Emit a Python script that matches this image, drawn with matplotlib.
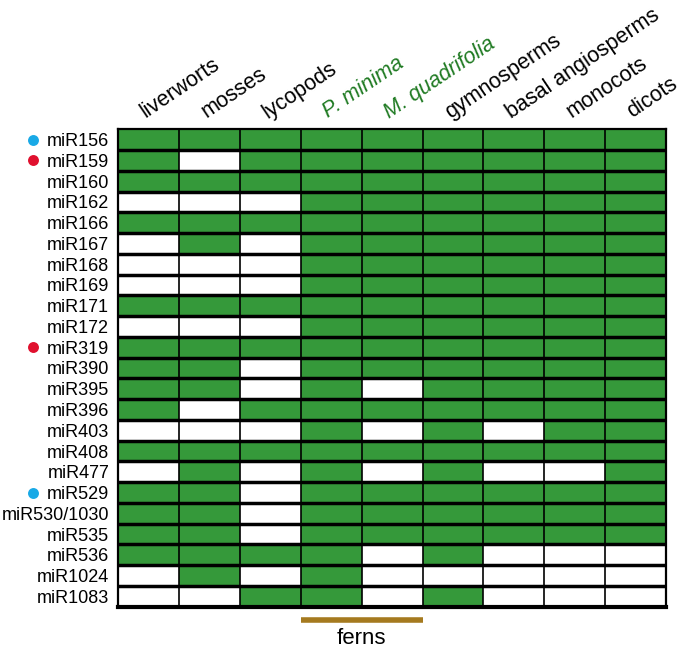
import numpy as np
import matplotlib
matplotlib.use("Agg")
import matplotlib.pyplot as plt
from matplotlib.colors import ListedColormap

plt.rcParams['font.family'] = ['Liberation Sans', 'DejaVu Sans']

# ----------------------------------------------------------------------
# Datos: presencia (1) / ausencia (0) de cada familia de miRNA
# ----------------------------------------------------------------------
grupos = ["liverworts", "mosses", "lycopods", "P. minima", "M. quadrifolia",
          "gymnosperms", "basal angiosperms", "monocots", "dicots"]
grupos_verdes = ["P. minima", "M. quadrifolia"]

mirnas = ["miR156", "miR159", "miR160", "miR162", "miR166", "miR167",
          "miR168", "miR169", "miR171", "miR172", "miR319", "miR390",
          "miR395", "miR396", "miR403", "miR408", "miR477", "miR529",
          "miR530/1030", "miR535", "miR536", "miR1024", "miR1083"]

presencia = [
    [1, 1, 1, 1, 1, 1, 1, 1, 1],  # miR156
    [1, 0, 1, 1, 1, 1, 1, 1, 1],  # miR159
    [1, 1, 1, 1, 1, 1, 1, 1, 1],  # miR160
    [0, 0, 0, 1, 1, 1, 1, 1, 1],  # miR162
    [1, 1, 1, 1, 1, 1, 1, 1, 1],  # miR166
    [0, 1, 0, 1, 1, 1, 1, 1, 1],  # miR167
    [0, 0, 0, 1, 1, 1, 1, 1, 1],  # miR168
    [0, 0, 0, 1, 1, 1, 1, 1, 1],  # miR169
    [1, 1, 1, 1, 1, 1, 1, 1, 1],  # miR171
    [0, 0, 0, 1, 1, 1, 1, 1, 1],  # miR172
    [1, 1, 1, 1, 1, 1, 1, 1, 1],  # miR319
    [1, 1, 0, 1, 1, 1, 1, 1, 1],  # miR390
    [1, 1, 0, 1, 0, 1, 1, 1, 1],  # miR395
    [1, 0, 1, 1, 1, 1, 1, 1, 1],  # miR396
    [0, 0, 0, 1, 0, 1, 0, 1, 1],  # miR403
    [1, 1, 1, 1, 1, 1, 1, 1, 1],  # miR408
    [0, 1, 0, 1, 0, 1, 0, 0, 1],  # miR477
    [1, 1, 0, 1, 1, 1, 1, 1, 1],  # miR529
    [1, 1, 0, 1, 1, 1, 1, 1, 1],  # miR530/1030
    [1, 1, 0, 1, 1, 1, 1, 1, 1],  # miR535
    [1, 1, 1, 1, 0, 1, 0, 0, 0],  # miR536
    [0, 1, 0, 1, 0, 0, 0, 0, 0],  # miR1024
    [0, 0, 1, 1, 0, 1, 0, 0, 0],  # miR1083
]

# marcadores de color junto a algunas familias
marcas = {"miR156": "#19a9e6", "miR529": "#19a9e6",
          "miR159": "#e0102e", "miR319": "#e0102e"}

# agrupación "ferns" (columnas de P. minima y M. quadrifolia)
ferns_cols = (3, 5)

verde = "#35993a"
verde_texto = "#1f7a22"

# ----------------------------------------------------------------------
# Figura
# ----------------------------------------------------------------------
fig = plt.figure(figsize=(6.83, 6.48), dpi=100)
ax = fig.add_axes([0.1732, 0.0637, 0.8019, 0.7368])

mat = np.array(presencia)
n_rows, n_cols = mat.shape
ax.pcolormesh(np.arange(n_cols + 1), np.arange(n_rows + 1), mat,
              cmap=ListedColormap(["white", verde]), vmin=0, vmax=1)
ax.set_xlim(0, n_cols)
ax.set_ylim(n_rows, 0)

# lineas de la cuadricula: horizontales gruesas, verticales finas
ax.vlines(np.arange(1, n_cols), 0, n_rows, color="black", lw=1.2)
ax.hlines(np.arange(1, n_rows), 0, n_cols, color="black", lw=2.5)
for lado in ["left", "right", "top"]:
    ax.spines[lado].set_linewidth(1.6)
ax.spines["bottom"].set_linewidth(3)

# etiquetas de filas
ax.set_yticks(np.arange(n_rows) + 0.5)
ax.set_yticklabels(mirnas, fontsize=13)
ax.tick_params(axis="y", length=0, pad=6.5)
ax.set_xticks([])

for i, m in enumerate(mirnas):
    if m in marcas:
        ax.scatter(-1.407, i + 0.5, s=62, color=marcas[m],
                   clip_on=False, zorder=5, linewidths=0)

# etiquetas de columnas (giradas)
for j, g in enumerate(grupos):
    es_verde = g in grupos_verdes
    ax.text(j + 0.45, -0.52, g, rotation=34, rotation_mode="anchor",
            ha="left", va="baseline", fontsize=15.5,
            color=verde_texto if es_verde else "black",
            style="italic" if es_verde else "normal")

# barra de "ferns"
ax.plot([ferns_cols[0], ferns_cols[1]], [n_rows + 0.65, n_rows + 0.65],
        color="#a57a1f", lw=4, clip_on=False, solid_capstyle="butt")
ax.text(sum(ferns_cols) / 2, n_rows + 1.55, "ferns", ha="center",
        va="center", fontsize=16)

fig.savefig("out.png", dpi=100)
